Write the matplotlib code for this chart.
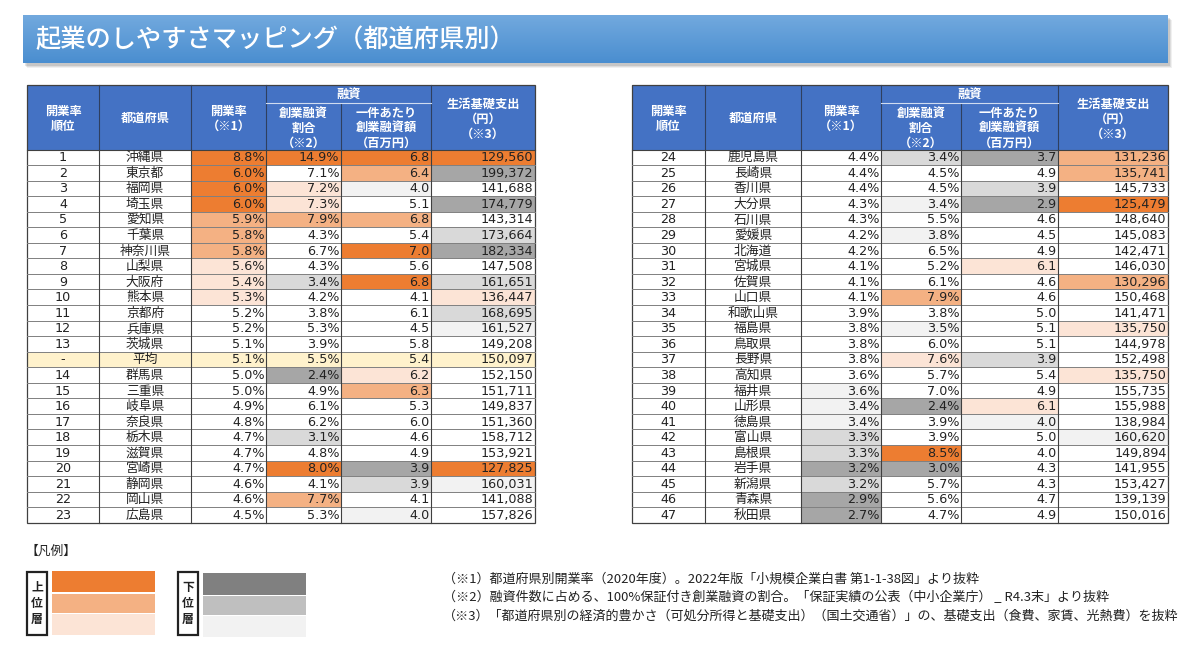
#!/usr/bin/env python3

import numpy as np
import matplotlib.pyplot as plt
from matplotlib.patches import Rectangle
from matplotlib.colors import to_rgb

plt.rcParams['font.family'] = ['Noto Sans CJK JP', 'DejaVu Sans']

# ---- data (ranked by 開業率) ----
prefectures = [
    "沖縄県", "東京都", "福岡県", "埼玉県", "愛知県", "千葉県", "神奈川県", "山梨県",
    "大阪府", "熊本県", "京都府", "兵庫県", "茨城県", "群馬県", "三重県", "岐阜県",
    "奈良県", "栃木県", "滋賀県", "宮崎県", "静岡県", "岡山県", "広島県", "鹿児島県",
    "長崎県", "香川県", "大分県", "石川県", "愛媛県", "北海道", "宮城県", "佐賀県",
    "山口県", "和歌山県", "福島県", "鳥取県", "長野県", "高知県", "福井県", "山形県",
    "徳島県", "富山県", "島根県", "岩手県", "新潟県", "青森県", "秋田県",
]
open_rate = [8.8, 6.0, 6.0, 6.0, 5.9, 5.8, 5.8, 5.6, 5.4, 5.3, 5.2, 5.2, 5.1, 5.0, 5.0, 4.9,
             4.8, 4.7, 4.7, 4.7, 4.6, 4.6, 4.5, 4.4, 4.4, 4.4, 4.3, 4.3, 4.2, 4.2, 4.1, 4.1,
             4.1, 3.9, 3.8, 3.8, 3.8, 3.6, 3.6, 3.4, 3.4, 3.3, 3.3, 3.2, 3.2, 2.9, 2.7]
loan_share = [14.9, 7.1, 7.2, 7.3, 7.9, 4.3, 6.7, 4.3, 3.4, 4.2, 3.8, 5.3, 3.9, 2.4, 4.9, 6.1,
              6.2, 3.1, 4.8, 8.0, 4.1, 7.7, 5.3, 3.4, 4.5, 4.5, 3.4, 5.5, 3.8, 6.5, 5.2, 6.1,
              7.9, 3.8, 3.5, 6.0, 7.6, 5.7, 7.0, 2.4, 3.9, 3.9, 8.5, 3.0, 5.7, 5.6, 4.7]
loan_amount = [6.8, 6.4, 4.0, 5.1, 6.8, 5.4, 7.0, 5.6, 6.8, 4.1, 6.1, 4.5, 5.8, 6.2, 6.3, 5.3,
               6.0, 4.6, 4.9, 3.9, 3.9, 4.1, 4.0, 3.7, 4.9, 3.9, 2.9, 4.6, 4.5, 4.9, 6.1, 4.6,
               4.6, 5.0, 5.1, 5.1, 3.9, 5.4, 4.9, 6.1, 4.0, 5.0, 4.0, 4.3, 4.3, 4.7, 4.9]
living_cost = [129560, 199372, 141688, 174779, 143314, 173664, 182334, 147508, 161651, 136447,
               168695, 161527, 149208, 152150, 151711, 149837, 151360, 158712, 153921, 127825,
               160031, 141088, 157826, 131236, 135741, 145733, 125479, 148640, 145083, 142471,
               146030, 130296, 150468, 141471, 135750, 144978, 152498, 135750, 155735, 155988,
               138984, 160620, 149894, 141955, 153427, 139139, 150016]
average = [5.1, 5.5, 5.4, 150097]

# tiers as seen in the picture: A/B/C = 上位層 (dark→light), x/y/z = 下位層 (dark→light), . = none
tier_open = "AAAABBBCCC" + "." * 28 + "zzzyyxyxx"
tier_share = "A.CCB...y." "...x...y.A" ".B.y..z.z." "..B.z.C..x" "..Ax..."
tier_amount = "ABz.B.A.A." "...CB....x" "y.zx.yx..." "C.....y..C" "z......"
tier_living = "Ax.x.yx.yC" "yz.......A" "z..BB.A..." ".B..C..C.." ".z....."

footnotes = [
    "（※1）都道府県別開業率（2020年度）。2022年版「小規模企業白書 第1-1-38図」より抜粋",
    "（※2）融資件数に占める、100%保証付き創業融資の割合。「保証実績の公表（中小企業庁） _ R4.3末」より抜粋",
    "（※3）「都道府県別の経済的豊かさ（可処分所得と基礎支出）（国土交通省）」の、基礎支出（食費、家賃、光熱費）を抜粋",
]

# ---- styling ----
TIER_COLORS = {'A': '#ED7D31', 'B': '#F4B183', 'C': '#FCE4D6',
               'x': '#A6A6A6', 'y': '#D9D9D9', 'z': '#F2F2F2', '.': 'white'}
LEGEND_GRAYS = ['#808080', '#BFBFBF', '#F2F2F2']
HEADER_BLUE = '#4472C4'
AVG_YELLOW = '#FFF2CC'
NUM_FONT = ['DejaVu Sans', 'Noto Sans CJK JP']
HEAD_TOP, HEAD_MID, BODY_TOP = 85, 103, 149.5
ROW_H = 15.55


def fmt(col, v):
    if col == 0 or col == 1:
        return f"{v:.1f}%"
    if col == 2:
        return f"{v:.1f}"
    return f"{v:,}"


def draw_header(ax, e):
    hb = BODY_TOP
    ax.add_patch(Rectangle((e[0], HEAD_TOP), e[-1] - e[0], hb - HEAD_TOP, fc=HEADER_BLUE, ec='none'))
    kw = dict(color='white', fontsize=8.8, fontweight='bold', ha='center', va='center')
    cx = [(e[i] + e[i + 1]) / 2 for i in range(6)]
    ax.text(cx[0], 111, "開業率", **kw)
    ax.text(cx[0], 126, "順位", **kw)
    ax.text(cx[1], 118, "都道府県", **kw)
    ax.text(cx[2], 111, "開業率", **kw)
    ax.text(cx[2], 126, "（※1）", **kw)
    ax.text((e[3] + e[5]) / 2, 94, "融資", **kw)
    for i, y in enumerate([113, 128, 143]):
        ax.text(cx[3], y, ["創業融資", "割合", "（※2）"][i], **kw)
        ax.text(cx[4], y, ["一件あたり", "創業融資額", "（百万円）"][i], **kw)
    for i, y in enumerate([104, 119, 134]):
        ax.text(cx[5], y, ["生活基礎支出", "（円）", "（※3）"][i], **kw)
    # header separators
    for i in [1, 2, 3, 5]:
        ax.plot([e[i], e[i]], [HEAD_TOP, hb], color='#2f3f5f', lw=0.8)
    ax.plot([e[4], e[4]], [HEAD_MID, hb], color='#2f3f5f', lw=0.8)
    ax.plot([e[3], e[5]], [HEAD_MID, HEAD_MID], color='#d0dcf0', lw=0.8)


def draw_table(ax, e, rows):
    draw_header(ax, e)
    n = len(rows)
    for r, (rank, idx) in enumerate(rows):
        y0 = BODY_TOP + r * ROW_H
        yc = y0 + ROW_H / 2 + 0.5
        if idx is None:
            name, vals = "平均", average
            fills = [AVG_YELLOW] * 6
        else:
            name = prefectures[idx]
            vals = [open_rate[idx], loan_share[idx], loan_amount[idx], living_cost[idx]]
            tiers = [tier_open[idx], tier_share[idx], tier_amount[idx], tier_living[idx]]
            fills = ['white', 'white'] + [TIER_COLORS[t] for t in tiers]
        for c in range(6):
            ax.add_patch(Rectangle((e[c], y0), e[c + 1] - e[c], ROW_H, fc=fills[c], ec='none'))
        ax.text((e[0] + e[1]) / 2, yc, rank, family=NUM_FONT, fontsize=9.2,
                ha='center', va='center', color='#222222')
        ax.text((e[1] + e[2]) / 2, yc, name, fontsize=9.2, ha='center', va='center', color='#222222')
        for c in range(4):
            ax.text(e[c + 3] - 1.5, yc, fmt(c, vals[c]), family=NUM_FONT, fontsize=9.2,
                    ha='right', va='center', color='#222222')
    bottom = BODY_TOP + n * ROW_H
    for r in range(1, n):
        y = BODY_TOP + r * ROW_H
        ax.plot([e[0], e[-1]], [y, y], color='#808080', lw=0.7)
    for i in range(1, 6):
        ax.plot([e[i], e[i]], [BODY_TOP, bottom], color='#404040', lw=0.8)
    ax.plot([e[0], e[-1]], [BODY_TOP, BODY_TOP], color='#404040', lw=0.8)
    ax.add_patch(Rectangle((e[0], HEAD_TOP), e[-1] - e[0], bottom - HEAD_TOP,
                           fc='none', ec='#404040', lw=0.9))


fig = plt.figure(figsize=(12, 6.66), dpi=100)
ax = fig.add_axes([0, 0, 1, 1])
ax.set_xlim(0, 1200)
ax.set_ylim(666, 0)
ax.axis('off')

# title bar with soft shadow and vertical gradient
for k, a in enumerate([0.10, 0.08, 0.06]):
    ax.add_patch(Rectangle((24 + k + 1, 17 + k + 1), 1145, 48, fc='black', alpha=a, ec='none'))
top_c, bot_c = np.array(to_rgb('#72a9de')), np.array(to_rgb('#4a8ed0'))
t = np.linspace(0, 1, 64)[:, None, None]
grad = top_c * (1 - t) + bot_c * t
grad = np.repeat(grad, 2, axis=1)
ax.imshow(grad, extent=(23, 1168, 63, 15), aspect='auto', interpolation='bilinear', zorder=1)
ax.set_xlim(0, 1200)
ax.set_ylim(666, 0)
ax.text(35, 40, "起業のしやすさマッピング（都道府県別）", color='white', fontsize=18.2,
        fontweight='medium', ha='left', va='center', zorder=2)

left_edges = [27, 99, 191, 266, 341, 431, 535]
right_edges = [632, 705, 801, 881, 961, 1058, 1168]
left_rows = [(str(i + 1), i) for i in range(13)] + [("-", None)] + \
            [(str(i + 1), i) for i in range(13, 23)]
right_rows = [(str(i + 1), i) for i in range(23, 47)]
draw_table(ax, left_edges, left_rows)
draw_table(ax, right_edges, right_rows)

# legend
ax.text(25, 551, "【凡例】", fontsize=9.2, ha='left', va='center', color='#222222')
for box_x, bar_x, label, colors, ys in [
        (27, 52, "上位層", [TIER_COLORS['A'], TIER_COLORS['B'], TIER_COLORS['C']],
         [(571, 592), (593.5, 612.5), (614, 635)]),
        (178, 203, "下位層", LEGEND_GRAYS, [(573, 594.5), (595.5, 615), (616, 637)])]:
    ax.add_patch(Rectangle((box_x, 572), 20, 63, fc='white', ec='#222222', lw=1.6))
    for j, ch in enumerate(label):
        ax.text(box_x + 10, 587 + j * 16.5, ch, fontsize=8.5, fontweight='bold',
                ha='center', va='center', color='#222222')
    for c, (y0, y1) in zip(colors, ys):
        ax.add_patch(Rectangle((bar_x, y0), 103, y1 - y0, fc=c, ec='none'))

for i, note in enumerate(footnotes):
    ax.text(443, 579 + i * 18.5, note, fontsize=9.4, ha='left', va='center', color='#222222')

fig.savefig("out.png", dpi=100)
